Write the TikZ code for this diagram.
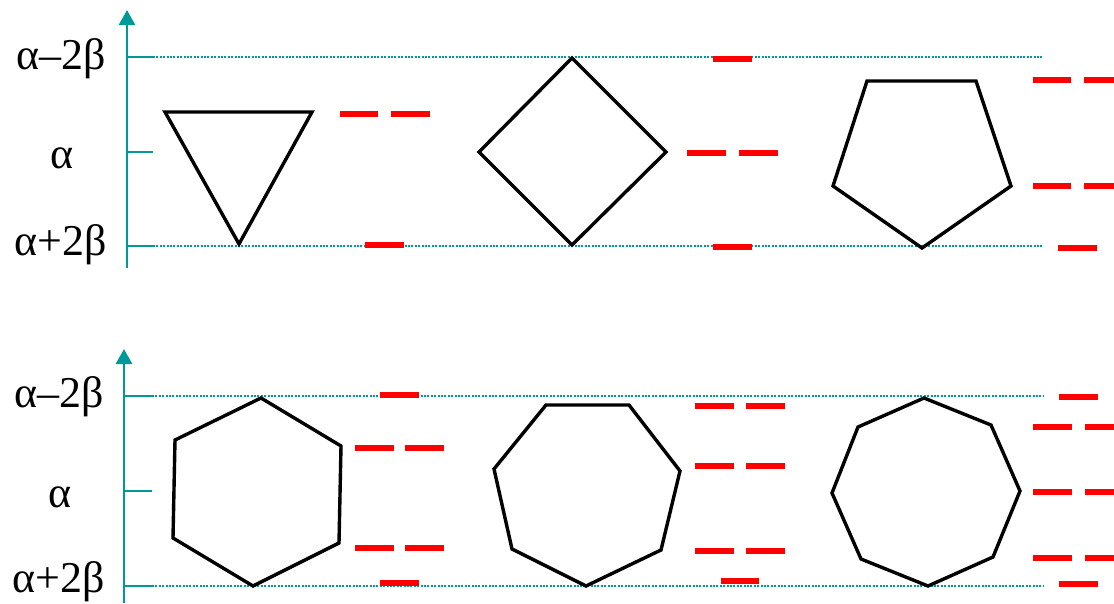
\documentclass[tikz,border=0pt]{standalone}
\usepackage{fontspec}
\setmainfont{Liberation Serif}
\usetikzlibrary{arrows.meta}
\definecolor{axisteal}{RGB}{0,153,153}
\definecolor{levelred}{RGB}{255,0,0}
\tikzset{
  axisline/.style={draw=axisteal, line width=2.6pt, -{Triangle[length=15pt,width=16pt]}},
  tickline/.style={draw=axisteal, line width=1.8pt},
  refline/.style={draw=axisteal, line width=1.6pt, dash pattern=on 2pt off 1.4pt},
  ring/.style={draw=black, line width=3.4pt, line join=miter},
  level/.style={draw=levelred, line width=6pt},
  energylabel/.style={font=\fontsize{44}{44}\selectfont, inner sep=0pt, anchor=center}
}
\newcommand{\lev}[3]{\draw[level] (#1,#3) -- (#2,#3);}
\begin{document}
\begin{tikzpicture}[x=1pt,y=-1pt]
\useasboundingbox (0,0) rectangle (1114,603);
% ---------- top panel axis ----------
\coordinate (ta0) at (127,268);
\coordinate (ta1) at (127,10);
\draw[axisline] (ta0) -- (ta1);
\draw[tickline] (127,57) -- (153,57);
\draw[tickline] (127,152) -- (153,152);
\draw[tickline] (127,246) -- (153,246);
\draw[refline] (153,57) -- (1043,57);
\draw[refline] (153,246) -- (1043,246);
\node[energylabel] (tl1) at (61,59) {α–2β};
\node[energylabel] (tl2) at (62,158) {α};
\node[energylabel] (tl3) at (61,245) {α+2β};
% ---------- bottom panel axis ----------
\coordinate (ba0) at (124,603);
\coordinate (ba1) at (124,349);
\draw[axisline] (ba0) -- (ba1);
\draw[tickline] (124,396) -- (152,396);
\draw[tickline] (124,491) -- (152,491);
\draw[tickline] (124,586) -- (152,586);
\draw[refline] (152,396) -- (1043,396);
\draw[refline] (152,586) -- (1043,586);
\node[energylabel] (bl1) at (59,397) {α–2β};
\node[energylabel] (bl2) at (60,497) {α};
\node[energylabel] (bl3) at (59,582) {α+2β};
% ---------- shapes ----------
\draw[ring] (165,112) -- (312,112) -- (239,244) -- cycle;
\draw[ring] (572,58) -- (666,152) -- (572,245) -- (479,152) -- cycle;
\draw[ring] (867,81) -- (976,81) -- (1011,186) -- (922,248) -- (833,186) -- cycle;
\draw[ring] (261,398) -- (341,446) -- (339,543) -- (253,586) -- (173,538) -- (175,440) -- cycle;
\draw[ring] (546,405) -- (629,405) -- (680,471) -- (661,550) -- (586,586) -- (512,549) -- (494,469) -- cycle;
\draw[ring] (924,398) -- (991,425) -- (1020,491) -- (993,557) -- (928,586) -- (861,559) -- (832,493) -- (858,427) -- cycle;
% ---------- levels: triangle ----------
\lev{340}{378}{114} \lev{391}{430}{114}
\lev{365}{404}{245}
% ---------- levels: square ----------
\lev{713}{752}{59}
\lev{687}{726}{153} \lev{739}{778}{153}
\lev{713}{752}{247}
% ---------- levels: pentagon ----------
\lev{1033}{1071}{80} \lev{1084}{1114}{80}
\lev{1033}{1071}{186} \lev{1084}{1114}{186}
\lev{1058}{1097}{248}
% ---------- levels: hexagon ----------
\lev{380}{419}{395}
\lev{355}{394}{448} \lev{405}{444}{448}
\lev{355}{394}{548} \lev{405}{444}{548}
\lev{380}{419}{583}
% ---------- levels: heptagon ----------
\lev{695}{734}{406} \lev{746}{785}{406}
\lev{695}{734}{466} \lev{746}{785}{466}
\lev{695}{734}{551} \lev{746}{785}{551}
\lev{721}{759}{581}
% ---------- levels: octagon ----------
\lev{1059}{1098}{397}
\lev{1033}{1072}{427} \lev{1085}{1114}{427}
\lev{1033}{1072}{492} \lev{1085}{1114}{492}
\lev{1033}{1072}{558} \lev{1085}{1114}{558}
\lev{1059}{1098}{584}
\end{tikzpicture}
\end{document}
